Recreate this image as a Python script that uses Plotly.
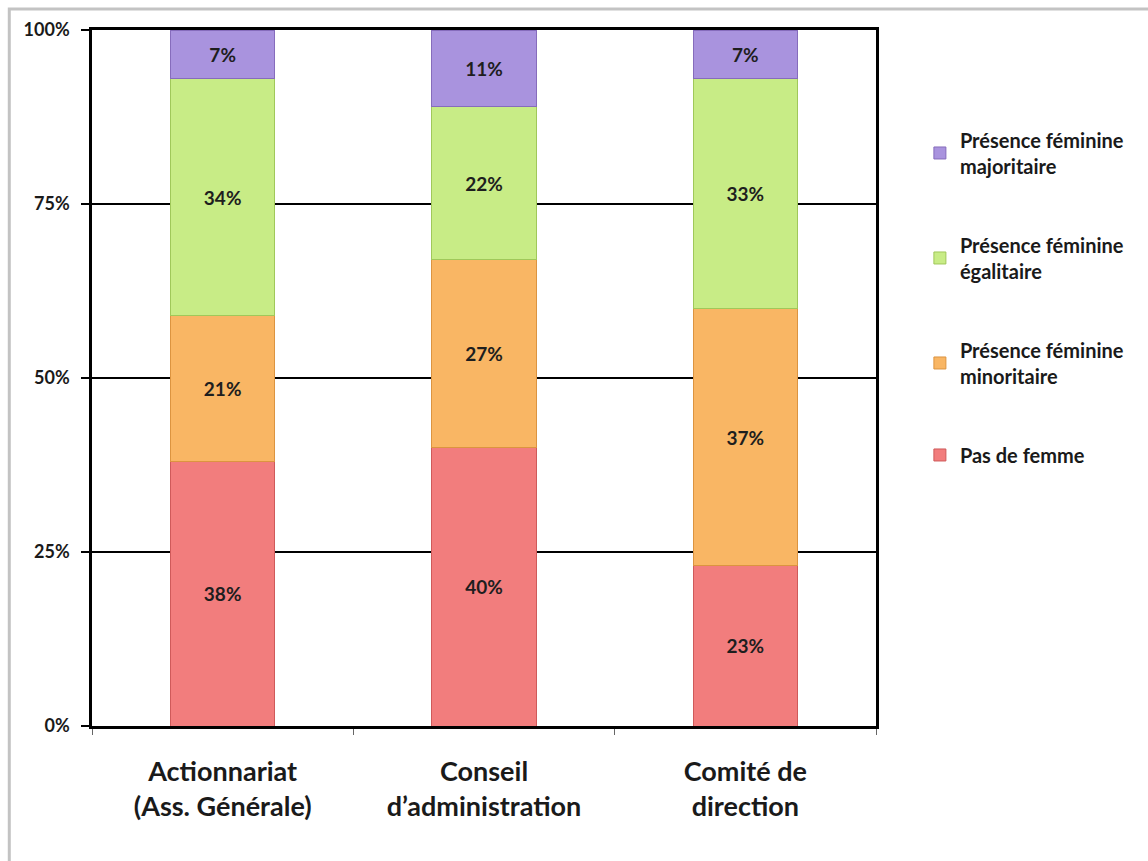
import plotly.graph_objects as go

# Categories (governance bodies) and share of companies per level of female presence
categories = ["Actionnariat<br>(Ass. Générale)", "Conseil<br>d’administration", "Comité de<br>direction"]

series_names = [
    "Pas de femme",
    "Présence féminine<br>minoritaire",
    "Présence féminine<br>égalitaire",
    "Présence féminine<br>majoritaire",
]
pas_de_femme = [38, 40, 23]
minoritaire = [21, 27, 37]
egalitaire = [34, 22, 33]
majoritaire = [7, 11, 7]

y_ticks = [0, 25, 50, 75, 100]
y_tick_labels = [f"{v}%" for v in y_ticks]

series_values = [pas_de_femme, minoritaire, egalitaire, majoritaire]
colors = ["#f27d7d", "#f9b664", "#c8ec86", "#a993de"]
edge_colors = ["#cf5a5a", "#dc9440", "#a0c85a", "#866cbc"]

FONT = "Lato, 'Open Sans', Arial, sans-serif"

fig = go.Figure()
n = len(series_names)
for i, (name, vals) in enumerate(zip(series_names, series_values)):
    fig.add_trace(go.Bar(
        x=categories,
        y=vals,
        name=name,
        legendgroup=f"g{i}",
        legendrank=n - i,
        marker=dict(color=colors[i], line=dict(color=edge_colors[i], width=1)),
        texttemplate="%{y:.0f}%",
        textposition="inside",
        insidetextanchor="middle",
        textangle=0,
        textfont=dict(family=FONT, size=19, color="#1e1e1e", weight="bold"),
        hoverinfo="skip",
    ))

fig.update_layout(
    barmode="stack",
    bargap=0.6,
    width=1148,
    height=861,
    margin=dict(l=92, r=272, t=30, b=135, autoexpand=False),
    paper_bgcolor="white",
    plot_bgcolor="white",
    font=dict(family=FONT, color="#1a1a1a"),
    legend=dict(
        x=1.056,
        xanchor="left",
        y=0.87,
        yanchor="top",
        traceorder="grouped",
        tracegroupgap=50,
        font=dict(family=FONT, size=20, color="#1a1a1a", weight="bold"),
        bgcolor="rgba(0,0,0,0)",
    ),
    xaxis=dict(
        showline=True,
        linecolor="#000000",
        linewidth=2.5,
        mirror=True,
        ticks="outside",
        tickson="boundaries",
        ticklen=6,
        tickcolor="#666666",
        tickwidth=1,
        ticklabelstandoff=20,
        tickfont=dict(family=FONT, size=27, color="#1a1a1a", weight="bold"),
        showgrid=False,
    ),
    yaxis=dict(
        range=[0, 100],
        tickmode="array",
        tickvals=y_ticks,
        ticktext=y_tick_labels,
        showline=True,
        linecolor="#000000",
        linewidth=2.5,
        mirror=True,
        ticks="outside",
        ticklen=8,
        tickcolor="#000000",
        tickwidth=2,
        ticklabelstandoff=8,
        showgrid=True,
        gridcolor="#000000",
        gridwidth=1.5,
        zeroline=False,
        tickfont=dict(family=FONT, size=18, color="#1a1a1a", weight="bold"),
    ),
)

# Light grey frame around the chart (top and left edges visible)
fig.add_shape(
    type="rect", xref="paper", yref="paper",
    x0=-0.1055, x1=1.4, y0=-0.25, y1=1.0302,
    line=dict(color="#c3c3c3", width=3),
    fillcolor="rgba(0,0,0,0)",
    layer="below",
)

fig.write_html("out.html")
